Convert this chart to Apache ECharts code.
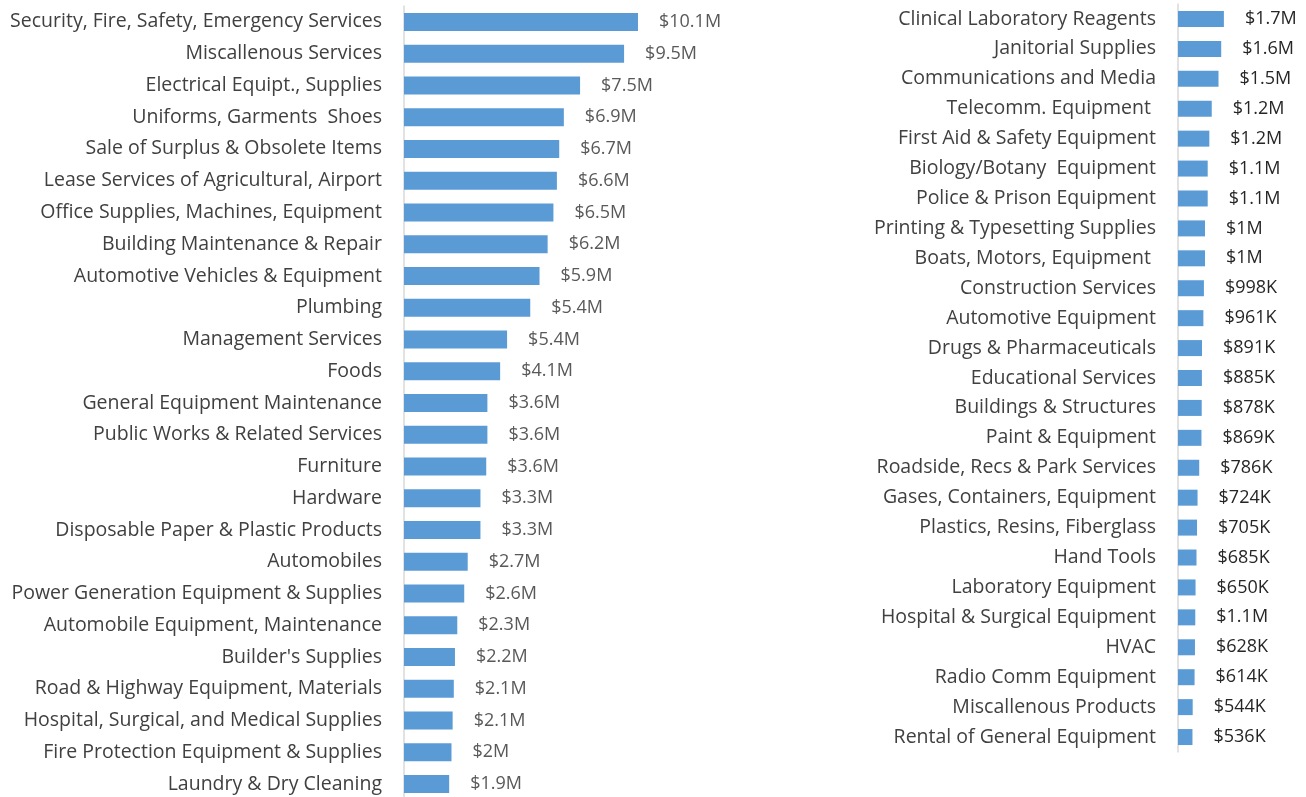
<!DOCTYPE html>
<html>
<head>
<meta charset="utf-8">
<script src="https://cdn.jsdelivr.net/npm/echarts@6/dist/echarts.min.js"></script>
<style>
  html, body { margin: 0; padding: 0; background: #fff; }
  #chart { width: 1306px; height: 797px; }
</style>
</head>
<body>
<div id="chart"></div>
<script>
// left panel, values in $M (bar lengths)
const leftCategories = [
    'Security, Fire, Safety, Emergency Services', 'Miscallenous Services', 'Electrical Equipt., Supplies',
    'Uniforms, Garments  Shoes', 'Sale of Surplus & Obsolete Items', 'Lease Services of Agricultural, Airport',
    'Office Supplies, Machines, Equipment', 'Building Maintenance & Repair', 'Automotive Vehicles & Equipment',
    'Plumbing', 'Management Services', 'Foods', 'General Equipment Maintenance',
    'Public Works & Related Services', 'Furniture', 'Hardware', 'Disposable Paper & Plastic Products',
    'Automobiles', 'Power Generation Equipment & Supplies', 'Automobile Equipment, Maintenance',
    "Builder's Supplies", 'Road & Highway Equipment, Materials', 'Hospital, Surgical, and Medical Supplies',
    'Fire Protection Equipment & Supplies', 'Laundry & Dry Cleaning',
];
const leftValues = [10.1, 9.5, 7.6, 6.9, 6.7, 6.6, 6.45, 6.2, 5.85, 5.45, 4.45, 4.15, 3.6, 3.6, 3.55,
    3.3, 3.3, 2.75, 2.6, 2.3, 2.2, 2.15, 2.1, 2.05, 1.95];
const leftLabels = ['$10.1M', '$9.5M', '$7.5M', '$6.9M', '$6.7M', '$6.6M', '$6.5M', '$6.2M', '$5.9M',
    '$5.4M', '$5.4M', '$4.1M', '$3.6M', '$3.6M', '$3.6M', '$3.3M', '$3.3M', '$2.7M', '$2.6M', '$2.3M',
    '$2.2M', '$2.1M', '$2.1M', '$2M', '$1.9M'];

// right panel, values in $M
const rightCategories = [
    'Clinical Laboratory Reagents', 'Janitorial Supplies', 'Communications and Media', 'Telecomm. Equipment ',
    'First Aid & Safety Equipment', 'Biology/Botany  Equipment', 'Police & Prison Equipment',
    'Printing & Typesetting Supplies', 'Boats, Motors, Equipment ', 'Construction Services',
    'Automotive Equipment', 'Drugs & Pharmaceuticals', 'Educational Services', 'Buildings & Structures',
    'Paint & Equipment', 'Roadside, Recs & Park Services', 'Gases, Containers, Equipment',
    'Plastics, Resins, Fiberglass', 'Hand Tools', 'Laboratory Equipment', 'Hospital & Surgical Equipment',
    'HVAC', 'Radio Comm Equipment', 'Miscallenous Products', 'Rental of General Equipment',
];
const rightValues = [1.7, 1.6, 1.5, 1.25, 1.16, 1.1, 1.1, 1.0, 1.0, 0.96, 0.94, 0.89, 0.885, 0.878,
    0.869, 0.786, 0.724, 0.705, 0.685, 0.65, 0.64, 0.628, 0.614, 0.544, 0.536];
const rightLabels = ['$1.7M', '$1.6M', '$1.5M', '$1.2M', '$1.2M', '$1.1M', '$1.1M', '$1M', '$1M',
    '$998K', '$961K', '$891K', '$885K', '$878K', '$869K', '$786K', '$724K', '$705K', '$685K',
    '$650K', '$1.1M', '$628K', '$614K', '$544K', '$536K'];

const FONT = '"Open Sans", sans-serif';

function catAxis(gridIndex, data, size) {
    return {
        type: 'category',
        gridIndex: gridIndex,
        data: data,
        inverse: true,
        axisTick: {show: false},
        axisLine: {lineStyle: {color: '#d9d9d9', width: 1.5}},
        axisLabel: {
            margin: 22,
            color: '#404040',
            fontSize: size,
            fontFamily: FONT,
        },
    };
}

function valAxis(gridIndex, max) {
    return {
        type: 'value',
        gridIndex: gridIndex,
        min: 0,
        max: max,
        show: false,
        splitLine: {show: false},
    };
}

function barSeries(index, values, labels, width, color, size) {
    return {
        type: 'bar',
        xAxisIndex: index,
        yAxisIndex: index,
        data: values,
        barWidth: width,
        itemStyle: {color: '#5b9bd5'},
        label: {
            show: true,
            position: 'right',
            distance: 21,
            color: color,
            fontSize: size,
            fontFamily: FONT,
            formatter: (p) => labels[p.dataIndex],
        },
        silent: true,
    };
}

const chart = echarts.init(document.getElementById('chart'));
chart.setOption({
    animation: false,
    grid: [
        {left: 404, top: 6, width: 278, height: 794, outerBoundsMode: 'none'},
        {left: 1178, top: 4, width: 54, height: 748, outerBoundsMode: 'none'},
    ],
    xAxis: [valAxis(0, 12), valAxis(1, 2)],
    yAxis: [catAxis(0, leftCategories, 19.5), catAxis(1, rightCategories, 19.5)],
    series: [
        barSeries(0, leftValues, leftLabels, 18, '#595959', 18),
        barSeries(1, rightValues, rightLabels, 16, '#262626', 18),
    ],
});
</script>
</body>
</html>
